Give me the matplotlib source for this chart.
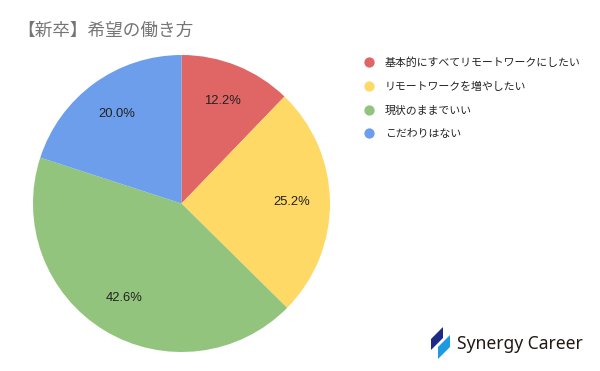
import matplotlib
matplotlib.use('Agg')
import matplotlib.pyplot as plt
from matplotlib.patches import Polygon
from matplotlib.lines import Line2D

plt.rcParams['font.family'] = ['Noto Sans CJK JP', 'DejaVu Sans']

title = '【新卒】希望の働き方'
labels = ['基本的にすべてリモートワークにしたい', 'リモートワークを増やしたい',
          '現状のままでいい', 'こだわりはない']
values = [12.2, 25.2, 42.6, 20.0]
colors = ['#e06666', '#ffd966', '#93c47d', '#6d9eeb']

W, H = 600, 371
fig = plt.figure(figsize=(6, 3.71), dpi=100)
fig.patch.set_facecolor('white')

# pie axes (square)
ax = fig.add_axes([33 / W, 19 / H, 297 / W, 297 / H])
wedges, texts, autotexts = ax.pie(
    values, colors=colors, startangle=90, counterclock=False,
    autopct='%.1f%%', pctdistance=0.745, radius=1.0,
    wedgeprops=dict(linewidth=0),
    textprops=dict(fontsize=9.4, family='Liberation Sans', color='#222222'))
ax.set_xlim(-1, 1)
ax.set_ylim(-1, 1)
ax.set_aspect('equal')

fig.text(17 / W, 1 - 31 / H, title, fontsize=12.7, color='#757575',
         ha='left', va='center')

# legend
handles = [Line2D([0], [0], marker='o', linestyle='', markersize=7.4,
                  markerfacecolor=c, markeredgewidth=0) for c in colors]
leg = fig.legend(handles, labels, loc='upper left',
                 bbox_to_anchor=(356 / W, 1 - 53 / H), frameon=False,
                 fontsize=7.85, labelspacing=1.24, handletextpad=0.75,
                 handlelength=1.5, borderaxespad=0)
for t in leg.get_texts():
    t.set_color('#222222')

# logo
def px(pts):
    return [(x / W, 1 - y / H) for x, y in pts]

fig.add_artist(Polygon(px([(431, 339), (443, 327), (443, 338), (431, 350)]),
                       closed=True, facecolor='#1d2b86', edgecolor='none',
                       transform=fig.transFigure))
fig.add_artist(Polygon(px([(438, 347), (450, 335), (450, 347), (438, 359)]),
                       closed=True, facecolor='#1e9be0', edgecolor='none',
                       transform=fig.transFigure))
fig.text(457 / W, 1 - 344 / H, 'Synergy Career', fontsize=12.6,
         family='Noto Sans', weight='semibold', color='#231815',
         ha='left', va='center')

fig.savefig('out.png', dpi=100)
